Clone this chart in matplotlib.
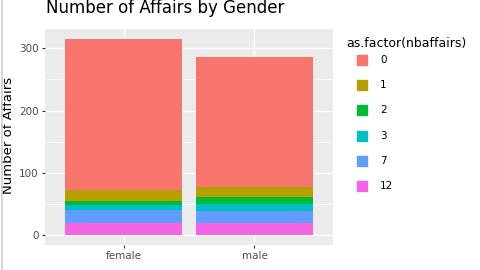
import matplotlib.pyplot as plt
import numpy as np

genders = ["female", "male"]
levels = ["0", "1", "2", "3", "7", "12"]
counts = {
    "0": [243, 208],
    "1": [17, 17],
    "2": [6, 11],
    "3": [8, 11],
    "7": [22, 20],
    "12": [19, 19],
}
colors = ["#F8766D", "#B79F00", "#00BA38", "#00BFC4", "#619CFF", "#F564E3"]

W, H = 480, 270
fig = plt.figure(figsize=(W / 100, H / 100), dpi=100)
ax = fig.add_axes([45 / W, 1 - 245 / H, 288 / W, (245 - 29) / H])
ax.set_facecolor("#EBEBEB")

x = np.arange(1, len(genders) + 1)
bottom = np.zeros(len(genders))
# ggplot stacks the first level on top, so draw from the last level up
for lev, col in reversed(list(zip(levels, colors))):
    v = np.array(counts[lev])
    ax.bar(x, v, 0.9, bottom=bottom, color=col, zorder=2)
    bottom += v

ax.set_xlim(0.4, 2.6)
ymax = bottom.max()
ax.set_ylim(-0.05 * ymax, ymax * 1.05)
ax.set_yticks([0, 100, 200, 300])
ax.set_yticks([50, 150, 250], minor=True)
ax.set_xticks(x)
ax.set_xticklabels(genders)
ax.grid(True, which="major", color="white", linewidth=1.0, zorder=0)
ax.grid(True, which="minor", axis="y", color="white", linewidth=0.5, zorder=0)
ax.tick_params(which="minor", length=0)
ax.tick_params(which="major", length=2.5, color="#333333", labelcolor="#4D4D4D",
               labelsize=7.5, pad=2)
for s in ax.spines.values():
    s.set_visible(False)
ax.set_axisbelow(True)
ax.set_ylabel("Number of Affairs", fontsize=9.5)
ax.yaxis.set_label_coords(9 / W, 0.5, transform=fig.transFigure)
ax.yaxis.label.set_va("center")

fig.text(46 / W, 1 - 8 / H, "Number of Affairs by Gender", fontsize=12,
         va="center", ha="left")

# thin grey edge on the left of the screenshot
fig.add_artist(plt.Line2D([1.5 / W, 1.5 / W], [0, 1], transform=fig.transFigure,
                          color="#D0D0D0", linewidth=1.2))

# legend
fig.text(346 / W, 1 - 43 / H, "as.factor(nbaffairs)", fontsize=9, va="center", ha="left")
for i, (lev, col) in enumerate(zip(levels, colors)):
    yc = 60 + i * 25.2
    fig.patches.append(plt.Rectangle((357 / W, 1 - (yc + 5) / H), 10 / W, 10 / H,
                                     transform=fig.transFigure, color=col))
    fig.text(380 / W, 1 - yc / H, lev, fontsize=7.5, va="center", ha="left")

fig.savefig("out.png", dpi=100)
